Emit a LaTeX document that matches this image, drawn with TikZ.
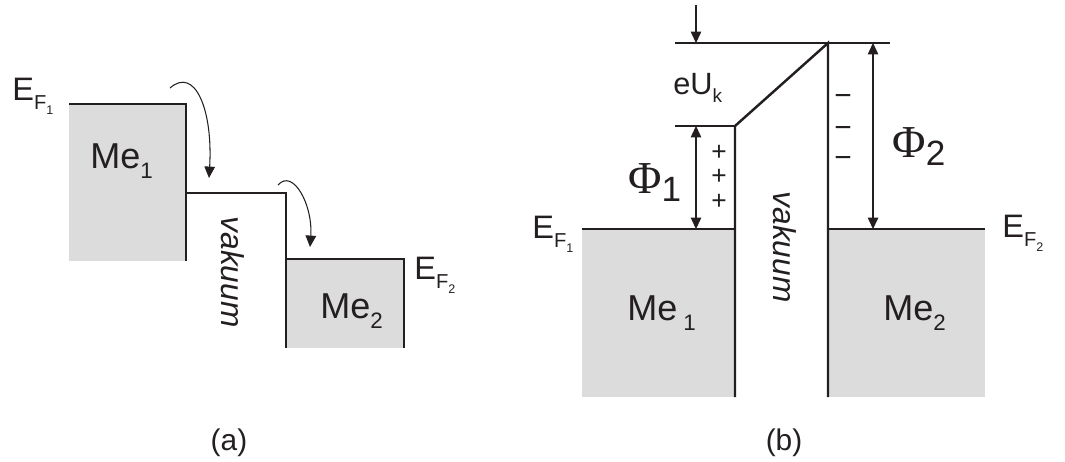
\documentclass[tikz,border=0pt]{standalone}
\usepackage{fontspec}
\setmainfont{Liberation Sans}
\newfontfamily\greekfont{Liberation Serif}
\usetikzlibrary{arrows.meta}
\definecolor{ink}{HTML}{231F20}
\definecolor{metal}{HTML}{DCDCDC}
\newcommand{\fsz}[1]{\fontsize{#1}{#1}\selectfont}
\newcommand{\lowsub}[1]{\raisebox{-0.28em}{\scalebox{0.62}{#1}}}

\begin{document}
\begin{tikzpicture}[x=0.02cm,y=-0.02cm,>={Triangle[length=6.5pt,width=6pt]},
    band/.style={line width=1.4pt,draw=ink},
    guide/.style={line width=0.6pt,draw=ink},
    lbl/.style={inner sep=0pt,text=ink,font=\fsz{18.5}},
    big/.style={lbl,font=\fsz{20.5}},
    sign/.style={lbl,font=\fsz{17}}]
  \useasboundingbox (0,0) rectangle (1065,461);

  % (a) metals separated by vacuum
  \fill[metal] (69,104) rectangle (186,261);
  \fill[metal] (286,259) rectangle (404,348);
  \coordinate (a1) at (69,104);
  \coordinate (a2) at (186,104);
  \coordinate (a3) at (186,261);
  \coordinate (a4) at (186,193);
  \coordinate (a5) at (286,193);
  \coordinate (a6) at (286,348);
  \coordinate (a7) at (286,259);
  \coordinate (a8) at (404,259);
  \coordinate (a9) at (404,348);
  \draw[band] (a1) -- (a2) -- (a3);
  \draw[band] (a4) -- (a5) -- (a6);
  \draw[band] (a7) -- (a8) -- (a9);
  \coordinate (j1) at (170,88);
  \coordinate (j2) at (209,178);
  \coordinate (j3) at (278,185);
  \coordinate (j4) at (310,247);
  \draw[guide,->] (j1) .. controls (195,66) and (213,110) .. (j2);
  \draw[guide,->] (j3) .. controls (293,168) and (313,205) .. (j4);

  \node[lbl,anchor=base west] (efa1) at (12,100) {E\lowsub{F\lowsub{1}}};
  \node[lbl,anchor=base west] (efa2) at (414,279) {E\lowsub{F\lowsub{2}}};
  \node[big,anchor=base west] (mea1) at (90,168) {Me\lowsub{1}};
  \node[big,anchor=base west] (mea2) at (320,318) {Me\lowsub{2}};
  \node[lbl,font=\fsz{18}\itshape,rotate=-90] (vaca) at (233,272) {vakuum};
  \node[lbl,font=\fsz{17}] (capa) at (229,443) {(a)};

  % (b) contact: Fermi levels equal
  \fill[metal] (582,229) rectangle (735,397);
  \fill[metal] (828,229) rectangle (985,397);
  \coordinate (f1) at (582,229);
  \coordinate (f2) at (735,229);
  \coordinate (f3) at (828,229);
  \coordinate (f4) at (985,229);
  \coordinate (w1) at (735,397);
  \coordinate (w2) at (735,126);
  \coordinate (w3) at (828,43);
  \coordinate (w4) at (828,397);
  \draw[band] (f1) -- (f2);
  \draw[band] (f3) -- (f4);
  \draw[band] (w1) -- (w2) -- (w3) -- (w4);

  \coordinate (g1) at (675,43);
  \coordinate (g2) at (890,43);
  \coordinate (g3) at (675,126);
  \draw[guide] (g1) -- (g2);
  \draw[guide] (g3) -- (w2);

  \coordinate (u0) at (696,5);
  \coordinate (u1) at (696,43);
  \coordinate (p1) at (696,126);
  \coordinate (p2) at (696,229);
  \coordinate (q1) at (873,43);
  \coordinate (q2) at (873,229);
  \draw[guide,->] (u0) -- (u1);
  \draw[guide,<->] (p1) -- (p2);
  \draw[guide,<->] (q1) -- (q2);

  \node[lbl,font=\fsz{17.5},anchor=base west] (euk) at (673,94) {eU\lowsub{k}};
  \node[lbl,anchor=base west] (phi1) at (628,193)
    {{\greekfont\fsz{26}Φ}{\fsz{20}\raisebox{-5pt}{1}}};
  \node[lbl,anchor=base west] (phi2) at (892,157)
    {{\greekfont\fsz{26}Φ}{\fsz{20}\raisebox{-5pt}{2}}};
  \foreach \y [count=\i] in {153,177,202}
    \node[sign,font=\fsz{15}] (plus\i) at (719,\y) {+};
  \foreach \y [count=\i] in {100,132,162}
    \node[sign] (minus\i) at (843,\y) {−};

  \node[lbl,anchor=base west] (efb1) at (532,238) {E\lowsub{F\lowsub{1}}};
  \node[lbl,anchor=base west] (efb2) at (1002,237) {E\lowsub{F\lowsub{2}}};
  \node[big,anchor=base west] (meb1) at (627,320) {Me\,\lowsub{1}};
  \node[big,anchor=base west] (meb2) at (883,320) {Me\lowsub{2}};
  \node[lbl,font=\fsz{18}\itshape,rotate=-90] (vacb) at (785,247) {vakuum};
  \node[lbl,font=\fsz{17}] (capb) at (784,443) {(b)};
\end{tikzpicture}
\end{document}
